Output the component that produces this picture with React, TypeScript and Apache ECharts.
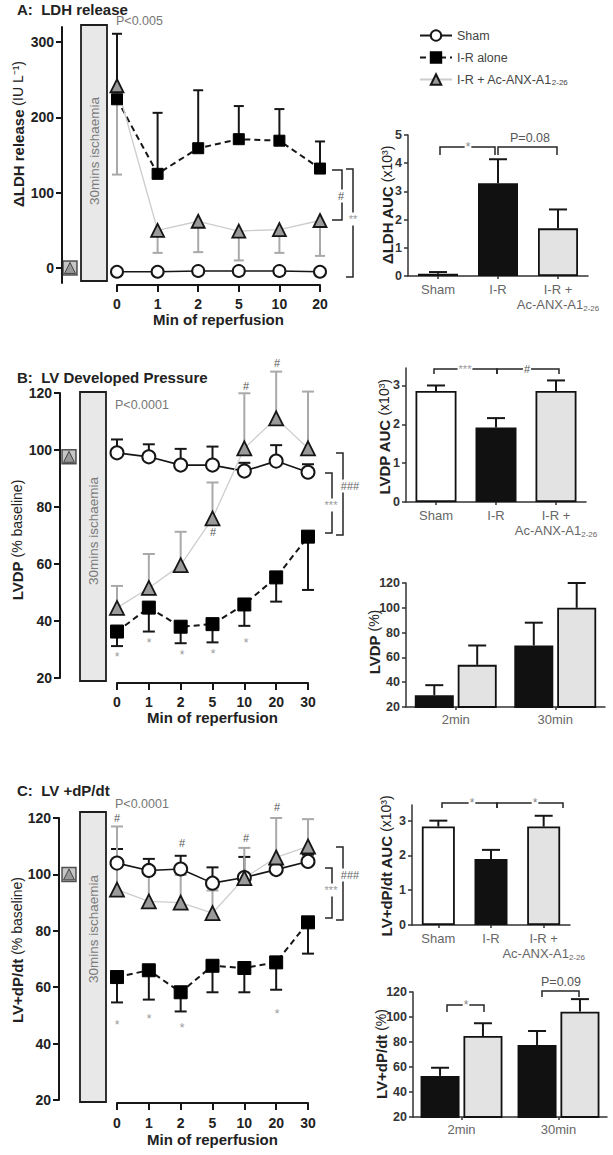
import React, { useEffect, useRef } from "react";
import * as echarts from "echarts";

const FONT = '"Liberation Sans", Arial, Helvetica, sans-serif';
const SHAM = "Sham";
const IR = "I-R alone";
const ANX = "I-R + Ac-ANX-A1";

// ---------- Panel A: LDH release ----------
const timesA = ["0", "1", "2", "5", "10", "20"];
const ldhSham = [-5, -5, -4, -4, -4, -5];
const ldhIR = [224, 125, 159, 171, 169, 132];
const ldhIRUpper = [311, 206, 236, 215, 211, 168];
const ldhANX = [242, 50, 62, 49, 51, 63];
const ldhANXLower = [124, 20, 21, 10, 20, 16];
const ldhBaseline = [0];
const ldhTicks = [0, 100, 200, 300];

const aucGroups = ["Sham", "I-R", "I-R + Ac-ANX-A1"];
const ldhAUC = [0.08, 3.29, 1.69];
const ldhAUCUpper = [0.14, 4.14, 2.36];

// ---------- Panel B: LV developed pressure ----------
const timesBC = ["0", "1", "2", "5", "10", "20", "30"];
const lvdpSham = [99, 97.6, 94.7, 94.7, 92.6, 96.1, 92.2];
const lvdpShamUpper = [103.7, 102, 100.4, 101.2, 95.5, 101.7, 95];
const lvdpIR = [36.3, 44.7, 38, 38.9, 45.8, 55.3, 69.6];
const lvdpIRLower = [31.2, 36.3, 32.2, 32.5, 38.3, 46.8, 50.9];
const lvdpANX = [44.6, 51.6, 59.6, 76, 100.6, 111.1, 100.6];
const lvdpANXUpper = [52.3, 63.5, 71.3, 88.6, 119.9, 127.5, 120.5];
const lvdpBaseline = [97.6];

const lvdpAUC = [2.86, 1.92, 2.86];
const lvdpAUCUpper = [3.0, 2.16, 3.13];
const aucTicks = [0, 1, 2, 3];

const pctGroups = ["2min", "30min"];
const lvdpPctIR = [29.5, 69.6];
const lvdpPctIRUpper = [37.6, 88];
const lvdpPctANX = [54, 100];
const lvdpPctANXUpper = [69.6, 120];

// ---------- Panel C: LV +dP/dt ----------
const dpdtSham = [104, 101.4, 101.9, 96.9, 98.9, 101.7, 104.6];
const dpdtShamUpper = [109, 105.5, 106.6, 102.5, 106.2, 104.5, 107];
const dpdtIR = [63.6, 66, 58.2, 67.6, 66.8, 68.8, 83];
const dpdtIRLower = [54.6, 55.6, 51.4, 58.2, 58.2, 59.1, 71.9];
const dpdtANX = [94.6, 90.4, 90, 86.3, 98.7, 106, 109.9];
const dpdtANXUpper = [117, 101, 99.8, 94.3, 109.4, 120, 119.6];
const dpdtBaseline = [100];

const dpdtAUC = [2.83, 1.9, 2.83];
const dpdtAUCUpper = [3.0, 2.16, 3.14];

const dpdtPctIR = [52.9, 77.6];
const dpdtPctIRUpper = [59.4, 88.8];
const dpdtPctANX = [84.8, 104.3];
const dpdtPctANXUpper = [95, 114.3];

// ---------- styles ----------
const BLACK = "#161616";
const GREYBAR = "#a9a9a9";
const aucColors = ["#ffffff", "#111111", "#e3e3e3"];

const mainX = (g: number, cats: string[], offset: number, margin: number, nameGap: number) => ({
  type: "category",
  gridIndex: g,
  data: cats,
  boundaryGap: false,
  offset,
  axisLine: { onZero: false, lineStyle: { color: BLACK, width: 2 } },
  axisTick: { length: 7, lineStyle: { color: BLACK, width: 2 } },
  axisLabel: { fontFamily: FONT, fontWeight: "bold", fontSize: 14, color: "#222", margin },
  name: "Min of reperfusion",
  nameLocation: "middle",
  nameGap,
  nameTextStyle: { fontFamily: FONT, fontWeight: "bold", fontSize: 15, color: "#222" },
  splitLine: { show: false },
});

const mainY = (g: number, min: number, max: number, offset: number, interval?: number, custom?: number[]) => ({
  type: "value",
  gridIndex: g,
  min,
  max,
  offset,
  ...(interval ? { interval } : {}),
  axisLine: { show: true, lineStyle: { color: BLACK, width: 2 } },
  axisTick: { show: true, length: 6, lineStyle: { color: BLACK, width: 2 }, ...(custom ? { customValues: custom } : {}) },
  axisLabel: { fontFamily: FONT, fontWeight: "bold", fontSize: 14, color: "#222", margin: 8, ...(custom ? { customValues: custom } : {}) },
  splitLine: { show: false },
});

const hiddenX = (g: number) => ({ type: "category", gridIndex: g, data: ["baseline"], show: false });
const hiddenY = (g: number, min: number, max: number) => ({ type: "value", gridIndex: g, min, max, show: false, splitLine: { show: false } });

const barX = (g: number, cats: string[], rich: boolean) => ({
  type: "category",
  gridIndex: g,
  data: cats,
  axisLine: { onZero: false, lineStyle: { color: "#333", width: 1.5 } },
  axisTick: { show: true, alignWithLabel: true, length: 3, lineStyle: { color: "#333", width: 1.5 }, interval: 0 },
  axisLabel: {
    interval: 0,
    margin: 6,
    fontFamily: FONT,
    fontSize: 13,
    color: "#666",
    formatter: rich
      ? (v: string) => (v === ANX ? "{g|I-R +}\n{g|Ac-ANX-A1}{s|2-26}" : "{g|" + v + "}")
      : undefined,
    rich: {
      g: { fontFamily: FONT, fontSize: 13, color: "#666", lineHeight: 15 },
      s: { fontFamily: FONT, fontSize: 8, color: "#666", lineHeight: 15, verticalAlign: "bottom", padding: [6, 0, 0, 0] },
    },
  },
  splitLine: { show: false },
});

const barY = (g: number, min: number, max: number, interval?: number, custom?: number[]) => ({
  type: "value",
  gridIndex: g,
  min,
  max,
  ...(interval ? { interval } : {}),
  axisLine: { show: true, lineStyle: { color: "#333", width: 1.5 } },
  axisTick: { show: true, length: 4, lineStyle: { color: "#333", width: 1.5 }, ...(custom ? { customValues: custom } : {}) },
  axisLabel: { fontFamily: FONT, fontWeight: "bold", fontSize: 12.5, color: "#333", margin: 6, ...(custom ? { customValues: custom } : {}) },
  splitLine: { show: false },
});

const errSeries = (axis: number, vals: number[], ends: number[], color: string, half: number, dx = 0, z = 2) => ({
  type: "custom",
  name: "err",
  xAxisIndex: axis,
  yAxisIndex: axis,
  z,
  silent: true,
  clip: false,
  encode: { x: 0, y: 1 },
  data: vals.map((v, i) => [i, v, ends[i]]),
  renderItem: (_p: any, api: any) => {
    const i = api.value(0);
    const a = api.coord([i, api.value(1)]);
    const b = api.coord([i, api.value(2)]);
    const x = a[0] + dx;
    return {
      type: "group",
      children: [
        { type: "line", shape: { x1: x, y1: a[1], x2: x, y2: b[1] }, style: { stroke: color, lineWidth: 2 } },
        { type: "line", shape: { x1: x - half, y1: b[1], x2: x + half, y2: b[1] }, style: { stroke: color, lineWidth: 2 } },
      ],
    };
  },
});

const lineShamS = (axis: number, data: number[], size: number) => ({
  type: "line", name: SHAM, xAxisIndex: axis, yAxisIndex: axis, data, z: 3,
  symbol: "circle", symbolSize: size, showSymbol: true,
  lineStyle: { color: BLACK, width: 1.6, type: "solid" },
  itemStyle: { color: "#ffffff", borderColor: BLACK, borderWidth: 2 },
});
const lineIRS = (axis: number, data: number[], size: number) => ({
  type: "line", name: IR, xAxisIndex: axis, yAxisIndex: axis, data, z: 3,
  symbol: "rect", symbolSize: size, showSymbol: true,
  lineStyle: { color: BLACK, width: 2, type: [6, 4] },
  itemStyle: { color: "#000000", borderColor: "#000000", borderWidth: 1 },
});
const lineANXS = (axis: number, data: number[], size: number) => ({
  type: "line", name: ANX, xAxisIndex: axis, yAxisIndex: axis, data, z: 3,
  symbol: "triangle", symbolSize: size, showSymbol: true,
  lineStyle: { color: "#cdcdcd", width: 1.3, type: "solid" },
  itemStyle: { color: "#9a9a9a", borderColor: BLACK, borderWidth: 1.8 },
});
const baseS = (axis: number, data: number[]) => [
  {
    type: "scatter", name: "baseline", xAxisIndex: axis, yAxisIndex: axis, data, z: 3,
    symbol: "rect", symbolSize: 14,
    itemStyle: { color: "#b9b9b9", borderColor: "#2a2a2a", borderWidth: 1.5 },
  },
  {
    type: "scatter", name: "baseline2", xAxisIndex: axis, yAxisIndex: axis, data, z: 4,
    symbol: "triangle", symbolSize: 11,
    itemStyle: { color: "#8c8c8c", borderColor: "#2a2a2a", borderWidth: 1 },
  },
];
const aucBar = (axis: number, name: string, data: number[], width: number) => ({
  type: "bar", name, xAxisIndex: axis, yAxisIndex: axis, barWidth: width, z: 2,
  data: data.map((v, i) => ({ value: v, itemStyle: { color: aucColors[i], borderColor: "#111", borderWidth: 1.8 } })),
});
const pctBar = (axis: number, name: string, data: number[], color: string) => ({
  type: "bar", name, xAxisIndex: axis, yAxisIndex: axis, barWidth: 39, barGap: "10%", z: 2,
  data,
  itemStyle: { color, borderColor: "#111", borderWidth: 1.8 },
});

// ---------- graphic helpers ----------
const txt = (x: number, y: number, text: string, o: any = {}) => ({
  type: "text",
  x,
  y,
  rotation: o.rot || 0,
  silent: true,
  z: 100,
  style: {
    text,
    fill: o.fill || "#222",
    fontFamily: FONT,
    fontSize: o.size || 13,
    fontWeight: o.bold ? "bold" : "normal",
    align: o.align || "center",
    verticalAlign: "middle",
    textAlign: o.align || "center",
    textVerticalAlign: "middle",
    ...(o.bg ? { backgroundColor: "#ffffff", padding: [1, 1] } : {}),
    ...(o.rich ? { rich: o.rich } : {}),
  },
});
const pl = (pts: number[][]) => ({
  type: "polyline",
  silent: true,
  z: 90,
  shape: { points: pts },
  style: { stroke: "#262626", lineWidth: 1.5, fill: null },
});
const ischaemia = (x: number, y: number, h: number, cy: number) => [
  { type: "rect", silent: true, z: 50, shape: { x, y, width: 26, height: h }, style: { fill: "#e8e8e8", stroke: "#1e1e1e", lineWidth: 1.8 } },
  txt(x + 13.5, cy, "30mins ischaemia", { rot: Math.PI / 2, fill: "#7a7a7a", size: 13.5 }),
];
const yName = (x: number, y: number, bold: string, rest: string, bsize = 15, rsize = 14) =>
  txt(x, y, "{b|" + bold + "}" + rest, {
    rot: Math.PI / 2,
    size: rsize,
    fill: "#222",
    rich: { b: { fontFamily: FONT, fontWeight: "bold", fontSize: bsize, fill: "#222" } },
  });

const graphics: any[] = [
  // titles
  txt(17, 9, "A:  LDH release", { align: "left", bold: true, size: 15 }),
  txt(17, 377, "B:  LV Developed Pressure", { align: "left", bold: true, size: 15 }),
  txt(17, 790, "C:  LV +dP/dt", { align: "left", bold: true, size: 15 }),
  // ischaemia boxes
  ...ischaemia(81, 25, 256, 151),
  ...ischaemia(80, 392, 289, 531),
  ...ischaemia(80, 812, 290, 929),
  // p values
  txt(116, 21, "P<0.005", { align: "left", fill: "#777", size: 12.5 }),
  txt(115, 405, "P<0.0001", { align: "left", fill: "#777", size: 12.5 }),
  txt(115, 804, "P<0.0001", { align: "left", fill: "#777", size: 12.5 }),
  // y axis names
  yName(18, 134, "ΔLDH release", " (IU L⁻¹)"),
  yName(17, 540, "LVDP", " (% baseline)"),
  yName(17, 950, "LV+dP/dt", " (% baseline)"),
  yName(387, 205, "ΔLDH AUC", " (x10³)", 15, 14),
  yName(384, 437, "LVDP AUC", " (x10³)", 15, 14),
  yName(374, 642, "LVDP", " (%)", 15, 14),
  yName(386, 866, "LV+dP/dt AUC", " (x10³)", 15, 14),
  yName(381, 1054, "LV+dP/dt", " (%)", 15, 14),
  // panel A brackets
  pl([[332, 170], [342, 170], [342, 220], [332, 220]]),
  txt(341, 196, "#", { fill: "#555", size: 11, bg: true }),
  pl([[346, 169], [353, 169], [353, 277], [346, 277]]),
  txt(353, 219, "**", { fill: "#999", size: 11, bg: true }),
  pl([[440, 155], [440, 147], [495, 147], [495, 155]]),
  txt(468, 147, "*", { fill: "#888", size: 12, bg: true }),
  pl([[498, 155], [498, 147], [557, 147], [557, 155]]),
  txt(530, 138, "P=0.08", { fill: "#555", size: 12.5 }),
  // panel B brackets
  pl([[325, 473], [332, 473], [332, 533], [325, 533]]),
  txt(331, 505, "***", { fill: "#999", size: 11, bg: true }),
  pl([[336, 453], [343, 453], [343, 535], [336, 535]]),
  txt(350, 486, "###", { fill: "#666", size: 11, bg: true }),
  pl([[434, 374], [434, 369], [497, 369], [497, 374]]),
  txt(465, 369, "***", { fill: "#999", size: 11, bg: true }),
  pl([[497, 374], [497, 369], [559, 369], [559, 374]]),
  txt(527, 369, "#", { fill: "#555", size: 11, bg: true }),
  // panel B point markers
  txt(213, 532, "#", { fill: "#555", size: 11 }),
  txt(246, 386, "#", { fill: "#555", size: 11 }),
  txt(277, 363, "#", { fill: "#555", size: 11 }),
  txt(117, 657, "*", { fill: "#999", size: 12 }),
  txt(149, 643, "*", { fill: "#999", size: 12 }),
  txt(182, 655, "*", { fill: "#999", size: 12 }),
  txt(213, 654, "*", { fill: "#999", size: 12 }),
  txt(246, 643, "*", { fill: "#999", size: 12 }),
  // panel C brackets
  pl([[325, 868], [332, 868], [332, 918], [325, 918]]),
  txt(331, 890, "***", { fill: "#999", size: 11, bg: true }),
  pl([[336, 847], [343, 847], [343, 920], [336, 920]]),
  txt(350, 875, "###", { fill: "#666", size: 11, bg: true }),
  pl([[442, 808], [442, 803], [497, 803], [497, 808]]),
  txt(472, 803, "*", { fill: "#888", size: 12, bg: true }),
  pl([[497, 808], [497, 803], [563, 803], [563, 808]]),
  txt(535, 803, "*", { fill: "#888", size: 12, bg: true }),
  pl([[447, 1012], [447, 1005], [484, 1005], [484, 1012]]),
  txt(466, 1005, "*", { fill: "#888", size: 12, bg: true }),
  pl([[542, 997], [542, 991], [579, 991], [579, 997]]),
  txt(561, 982, "P=0.09", { fill: "#555", size: 12.5 }),
  // panel C point markers
  txt(117, 818, "#", { fill: "#555", size: 11 }),
  txt(182, 843, "#", { fill: "#555", size: 11 }),
  txt(246, 838, "#", { fill: "#555", size: 11 }),
  txt(277, 807, "#", { fill: "#555", size: 11 }),
  txt(117, 1025, "*", { fill: "#999", size: 12 }),
  txt(149, 1019, "*", { fill: "#999", size: 12 }),
  txt(182, 1028, "*", { fill: "#999", size: 12 }),
  txt(277, 1014, "*", { fill: "#999", size: 12 }),
];

const grid = (left: number, top: number, width: number, height: number) => ({ left, top, width, height, outerBoundsMode: "none", containLabel: false });

const option: any = {
  animation: false,
  backgroundColor: "#ffffff",
  textStyle: { fontFamily: FONT },
  legend: {
    left: 414,
    top: 24,
    orient: "vertical",
    itemWidth: 32,
    itemHeight: 13,
    itemGap: 9,
    selectedMode: false,
    data: [SHAM, IR, ANX],
    formatter: (n: string) => (n === ANX ? "I-R + Ac-ANX-A1{s|2-26}" : n),
    textStyle: {
      fontFamily: FONT,
      fontSize: 12.5,
      color: "#444",
      rich: { s: { fontFamily: FONT, fontSize: 8, color: "#444", verticalAlign: "bottom", padding: [6, 0, 0, 0] } },
    },
  },
  grid: [
    grid(117, 27, 203, 256),
    grid(63, 27, 14, 256),
    grid(408, 135, 180, 141),
    grid(117, 393, 191, 285),
    grid(62, 393, 14, 285),
    grid(406, 368, 180, 134),
    grid(406, 583, 199, 124),
    grid(117, 818, 191, 282),
    grid(62, 818, 14, 282),
    grid(412, 805, 158, 120),
    grid(413, 992, 194, 125),
  ],
  xAxis: [
    mainX(0, timesA, 2, 12, 25),
    hiddenX(1),
    barX(2, aucGroups, true),
    mainX(3, timesBC, 5, 12, 26),
    hiddenX(4),
    barX(5, aucGroups, true),
    barX(6, pctGroups, false),
    mainX(7, timesBC, 3, 13, 29),
    hiddenX(8),
    barX(9, aucGroups, true),
    barX(10, pctGroups, false),
  ],
  yAxis: [
    mainY(0, -20, 320, 55, undefined, ldhTicks),
    hiddenY(1, -20, 320),
    barY(2, 0, 5, 1),
    mainY(3, 20, 120, 57, 20),
    hiddenY(4, 20, 120),
    barY(5, 0, 3.45, undefined, aucTicks),
    barY(6, 20, 120, 20),
    mainY(7, 20, 120, 58, 20),
    hiddenY(8, 20, 120),
    barY(9, 0, 3.45, undefined, aucTicks),
    barY(10, 20, 120, 20),
  ],
  series: [
    // Panel A
    errSeries(0, ldhIR, ldhIRUpper, BLACK, 5),
    errSeries(0, ldhANX, ldhANXLower, GREYBAR, 5),
    lineShamS(0, ldhSham, 12),
    lineIRS(0, ldhIR, 11),
    lineANXS(0, ldhANX, 13),
    ...baseS(1, ldhBaseline),
    aucBar(2, "LDH AUC", ldhAUC, 40),
    errSeries(2, ldhAUC, ldhAUCUpper, BLACK, 9, 0, 3),
    // Panel B
    errSeries(3, lvdpSham, lvdpShamUpper, BLACK, 6),
    errSeries(3, lvdpIR, lvdpIRLower, BLACK, 6),
    errSeries(3, lvdpANX, lvdpANXUpper, GREYBAR, 6),
    lineShamS(3, lvdpSham, 13),
    lineIRS(3, lvdpIR, 13),
    lineANXS(3, lvdpANX, 14),
    ...baseS(4, lvdpBaseline),
    aucBar(5, "LVDP AUC", lvdpAUC, 41),
    errSeries(5, lvdpAUC, lvdpAUCUpper, BLACK, 9, 0, 3),
    pctBar(6, "LVDP I-R", lvdpPctIR, "#111111"),
    pctBar(6, "LVDP ANX", lvdpPctANX, "#e3e3e3"),
    errSeries(6, lvdpPctIR, lvdpPctIRUpper, BLACK, 9, -21.45, 3),
    errSeries(6, lvdpPctANX, lvdpPctANXUpper, BLACK, 9, 21.45, 3),
    // Panel C
    errSeries(7, dpdtSham, dpdtShamUpper, BLACK, 6),
    errSeries(7, dpdtIR, dpdtIRLower, BLACK, 6),
    errSeries(7, dpdtANX, dpdtANXUpper, GREYBAR, 6),
    lineShamS(7, dpdtSham, 13),
    lineIRS(7, dpdtIR, 13),
    lineANXS(7, dpdtANX, 14),
    ...baseS(8, dpdtBaseline),
    aucBar(9, "dP/dt AUC", dpdtAUC, 33),
    errSeries(9, dpdtAUC, dpdtAUCUpper, BLACK, 9, 0, 3),
    pctBar(10, "dP/dt I-R", dpdtPctIR, "#111111"),
    pctBar(10, "dP/dt ANX", dpdtPctANX, "#e3e3e3"),
    errSeries(10, dpdtPctIR, dpdtPctIRUpper, BLACK, 9, -21.45, 3),
    errSeries(10, dpdtPctANX, dpdtPctANXUpper, BLACK, 9, 21.45, 3),
  ],
  graphic: { elements: graphics },
};

export default function App() {
  const ref = useRef<HTMLDivElement>(null);
  useEffect(() => {
    if (!ref.current) return;
    const chart = echarts.init(ref.current, null, { renderer: "svg" });
    chart.setOption(option);
    return () => chart.dispose();
  }, []);
  return (
    <div
      ref={ref}
      style={{ position: "absolute", left: 0, top: 0, width: 613, height: 1155, background: "#fff" }}
    />
  );
}
